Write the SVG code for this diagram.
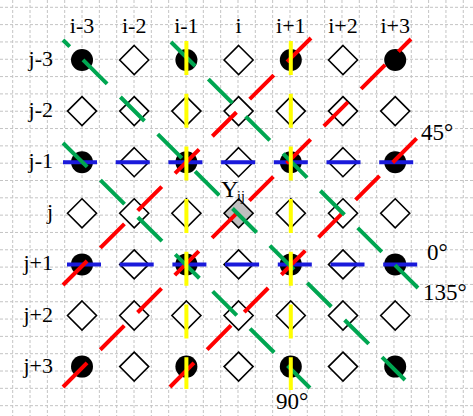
<svg xmlns="http://www.w3.org/2000/svg" width="473" height="416" viewBox="0 0 473 416">
<defs>
<style>
.grid{fill:none;stroke:#c4c4c4;stroke-width:1;stroke-dasharray:3 2}
.lbl{font-family:"Liberation Serif","Times New Roman",serif;font-size:22px;fill:#000}
.ang{font-family:"Liberation Serif","Times New Roman",serif;font-size:23px;fill:#000}
.dia{fill:#fff;stroke:#000;stroke-width:1.6}
.dot{fill:#000}
.ln{fill:none;stroke-width:4;stroke-dasharray:34 18.7}
.y{stroke:#ffff00}
.b{stroke:#1a1adb}
.r{stroke:#ff0000}
.g{stroke:#00a651}
</style>
<path id="d" d="M0 -14.5L14.5 0L0 14.5L-14.5 0Z"/>
</defs>
<rect width="473" height="416" fill="#fff"/>
<path class="grid" d="M12.7 0V416M30.03 0V416M47.36 0V416M64.69 0V416M82.02 0V416M99.35 0V416M116.68 0V416M134.01 0V416M151.34 0V416M168.67 0V416M186 0V416M203.33 0V416M220.66 0V416M237.99 0V416M255.32 0V416M272.65 0V416M289.98 0V416M307.31 0V416M324.64 0V416M341.97 0V416M359.3 0V416M376.63 0V416M393.96 0V416M411.29 0V416M428.62 0V416M445.95 0V416M463.28 0V416M0 7.3H473M0 24.62H473M0 41.94H473M0 59.26H473M0 76.58H473M0 93.9H473M0 111.22H473M0 128.54H473M0 145.86H473M0 163.18H473M0 180.5H473M0 197.82H473M0 215.14H473M0 232.46H473M0 249.78H473M0 267.1H473M0 284.42H473M0 301.74H473M0 319.06H473M0 336.38H473M0 353.7H473M0 371.02H473M0 388.34H473M0 405.66H473"/>
<g id="labels">
<text class="lbl" x="82" y="33" text-anchor="middle">i-3</text>
<text class="lbl" x="134.2" y="33" text-anchor="middle">i-2</text>
<text class="lbl" x="186.4" y="33" text-anchor="middle">i-1</text>
<text class="lbl" x="238.6" y="33" text-anchor="middle">i</text>
<text class="lbl" x="290.8" y="33" text-anchor="middle">i+1</text>
<text class="lbl" x="343" y="33" text-anchor="middle">i+2</text>
<text class="lbl" x="395.2" y="33" text-anchor="middle">i+3</text>
<text class="lbl" x="53" y="66" text-anchor="end">j-3</text>
<text class="lbl" x="53" y="117.1" text-anchor="end">j-2</text>
<text class="lbl" x="53" y="168.2" text-anchor="end">j-1</text>
<text class="lbl" x="53" y="219.3" text-anchor="end">j</text>
<text class="lbl" x="53" y="270.4" text-anchor="end">j+1</text>
<text class="lbl" x="53" y="321.5" text-anchor="end">j+2</text>
<text class="lbl" x="53" y="372.6" text-anchor="end">j+3</text>
</g>
<g id="nodes">
<g id="n-3-3"><circle class="dot" cx="82" cy="60" r="11"/></g>
<g id="n-2-3"><use href="#d" class="dia" x="134.2" y="60"/></g>
<g id="n-1-3"><circle class="dot" cx="186.4" cy="60" r="11"/></g>
<g id="n0-3"><use href="#d" class="dia" x="238.6" y="60"/></g>
<g id="n1-3"><circle class="dot" cx="290.8" cy="60" r="11"/></g>
<g id="n2-3"><use href="#d" class="dia" x="343" y="60"/></g>
<g id="n3-3"><circle class="dot" cx="395.2" cy="60" r="11"/></g>
<g id="n-3-2"><use href="#d" class="dia" x="82" y="111.1"/></g>
<g id="n-2-2"><use href="#d" class="dia" x="134.2" y="111.1"/></g>
<g id="n-1-2"><use href="#d" class="dia" x="186.4" y="111.1"/></g>
<g id="n0-2"><use href="#d" class="dia" x="238.6" y="111.1"/></g>
<g id="n1-2"><use href="#d" class="dia" x="290.8" y="111.1"/></g>
<g id="n2-2"><use href="#d" class="dia" x="343" y="111.1"/></g>
<g id="n3-2"><use href="#d" class="dia" x="395.2" y="111.1"/></g>
<g id="n-3-1"><circle class="dot" cx="82" cy="162.2" r="11"/></g>
<g id="n-2-1"><use href="#d" class="dia" x="134.2" y="162.2"/></g>
<g id="n-1-1"><circle class="dot" cx="186.4" cy="162.2" r="11"/></g>
<g id="n0-1"><use href="#d" class="dia" x="238.6" y="162.2"/></g>
<g id="n1-1"><circle class="dot" cx="290.8" cy="162.2" r="11"/></g>
<g id="n2-1"><use href="#d" class="dia" x="343" y="162.2"/></g>
<g id="n3-1"><circle class="dot" cx="395.2" cy="162.2" r="11"/></g>
<g id="n-30"><use href="#d" class="dia" x="82" y="213.3"/></g>
<g id="n-20"><use href="#d" class="dia" x="134.2" y="213.3"/></g>
<g id="n-10"><use href="#d" class="dia" x="186.4" y="213.3"/></g>
<g id="n00"><use href="#d" x="238.6" y="213.3" fill="#bfbfbf" stroke="#000" stroke-width="1.6"/></g>
<g id="n10"><use href="#d" class="dia" x="290.8" y="213.3"/></g>
<g id="n20"><use href="#d" class="dia" x="343" y="213.3"/></g>
<g id="n30"><use href="#d" class="dia" x="395.2" y="213.3"/></g>
<g id="n-31"><circle class="dot" cx="82" cy="264.4" r="11"/></g>
<g id="n-21"><use href="#d" class="dia" x="134.2" y="264.4"/></g>
<g id="n-11"><circle class="dot" cx="186.4" cy="264.4" r="11"/></g>
<g id="n01"><use href="#d" class="dia" x="238.6" y="264.4"/></g>
<g id="n11"><circle class="dot" cx="290.8" cy="264.4" r="11"/></g>
<g id="n21"><use href="#d" class="dia" x="343" y="264.4"/></g>
<g id="n31"><circle class="dot" cx="395.2" cy="264.4" r="11"/></g>
<g id="n-32"><use href="#d" class="dia" x="82" y="315.5"/></g>
<g id="n-22"><use href="#d" class="dia" x="134.2" y="315.5"/></g>
<g id="n-12"><use href="#d" class="dia" x="186.4" y="315.5"/></g>
<g id="n02"><use href="#d" class="dia" x="238.6" y="315.5"/></g>
<g id="n12"><use href="#d" class="dia" x="290.8" y="315.5"/></g>
<g id="n22"><use href="#d" class="dia" x="343" y="315.5"/></g>
<g id="n32"><use href="#d" class="dia" x="395.2" y="315.5"/></g>
<g id="n-33"><circle class="dot" cx="82" cy="366.6" r="11"/></g>
<g id="n-23"><use href="#d" class="dia" x="134.2" y="366.6"/></g>
<g id="n-13"><circle class="dot" cx="186.4" cy="366.6" r="11"/></g>
<g id="n03"><use href="#d" class="dia" x="238.6" y="366.6"/></g>
<g id="n13"><circle class="dot" cx="290.8" cy="366.6" r="11"/></g>
<g id="n23"><use href="#d" class="dia" x="343" y="366.6"/></g>
<g id="n33"><circle class="dot" cx="395.2" cy="366.6" r="11"/></g>
</g>
<g id="connectors">
<line class="ln b" x1="63" y1="162.2" x2="416" y2="162.2"/>
<line class="ln b" x1="67" y1="264.4" x2="419" y2="264.4"/>
<line class="ln r" x1="63" y1="285" x2="311" y2="38"/>
<line class="ln r" x1="63" y1="387" x2="411" y2="39"/>
<line class="ln r" x1="170" y1="387" x2="417" y2="138"/>
<line class="ln g" x1="63" y1="40" x2="405" y2="380" style="stroke-dashoffset:24.5"/>
<line class="ln g" x1="171" y1="42" x2="418" y2="288"/>
<line class="ln g" x1="63" y1="143" x2="310" y2="388"/>
<line class="ln y" x1="186.4" y1="41" x2="186.4" y2="389"/>
<line class="ln y" x1="290.8" y1="41" x2="290.8" y2="390"/>
</g>
<g id="annotations">
<text class="lbl" x="221" y="197" style="font-size:24px">Y</text>
<text class="lbl" x="237" y="201" style="font-size:14px">ij</text>
<text class="ang" x="421" y="140">45°</text>
<text class="ang" x="427" y="260">0°</text>
<text class="ang" x="423" y="300">135°</text>
<text class="ang" x="276" y="409">90°</text>
</g>
</svg>
